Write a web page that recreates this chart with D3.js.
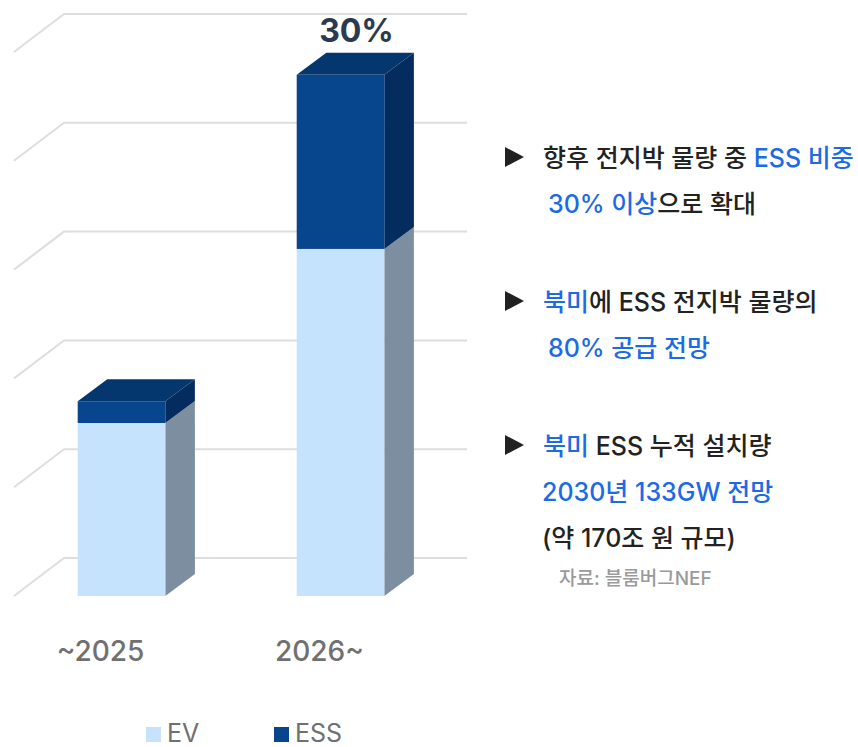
<!DOCTYPE html>
<html>
<head>
<meta charset="utf-8">
<script src="https://cdn.jsdelivr.net/npm/d3@7"></script>
<style>
  body { margin: 0; background: #fff; }
  svg { display: block; font-family: Inter, "Noto Sans CJK KR", sans-serif; }
</style>
</head>
<body>
<svg id="chart" width="858" height="747"></svg>
<script>
// Data
const categories = ["~2025", "2026~"];
const evValues = [159, 319];
const essValues = [20, 160];
const gridTicks = [0, 100, 200, 300, 400, 500];
const seriesNames = ["EV", "ESS"];
const shareLabel = "30%";

// Right-hand notes: each line is a list of [text, highlighted?]
const notes = [
    [[["향후 전지박 물량 중 ", false], ["ESS 비중", true]],
     [["30% 이상", true], ["으로 확대", false]]],
    [[["북미", true], ["에 ESS 전지박 물량의", false]],
     [["80% 공급 전망", true]]],
    [[["북미", true], [" ESS 누적 설치량", false]],
     [["2030년 133GW 전망", true]],
     [["(약 170조 원 규모)", false]]]
];
const sourceText = "자료: 블룸버그NEF";

const svg = d3.select("#chart");

const colors = {
    EV: { front: "#c5e3fd", side: "#7c8e9f", top: "#a9c6e0" },
    ESS: { front: "#07458d", side: "#042c5e", top: "#05376f" }
};

// Scales (front plane)
const y = d3.scaleLinear().domain([0, 500]).range([596, 52]);
const x = d3.scaleBand().domain(categories).range([12, 450]).paddingInner(0.6).paddingOuter(0.3);

// Perspective offsets
const wallDx = 50, wallDy = 38;
const barDx = 29.6, barDy = 22;

// Gridlines: diagonal floor-side plus back wall line
const grid = svg.append("g").attr("stroke", "#dedede").attr("stroke-width", 2).attr("fill", "none");
gridTicks.forEach(t => {
    grid.append("path")
        .attr("d", `M14,${y(t)} L${14 + wallDx},${y(t) - wallDy} L467,${y(t) - wallDy}`);
});

// Bars
const stacks = categories.map((c, i) => ({
    cat: c,
    segs: [
        { key: "EV", y0: 0, y1: evValues[i] },
        { key: "ESS", y0: evValues[i], y1: evValues[i] + essValues[i] }
    ]
}));

stacks.forEach(s => {
    const x0 = x(s.cat), x1 = x0 + x.bandwidth();
    const g = svg.append("g");
    s.segs.forEach((seg, j) => {
        const yb = y(seg.y0), yt = y(seg.y1);
        const c = colors[seg.key];
        // side face
        g.append("path")
            .attr("d", `M${x1},${yb} L${x1 + barDx},${yb - barDy} L${x1 + barDx},${yt - barDy} L${x1},${yt} Z`)
            .attr("fill", c.side);
        // front face
        g.append("rect")
            .attr("x", x0).attr("y", yt)
            .attr("width", x.bandwidth()).attr("height", yb - yt)
            .attr("fill", c.front);
        // top face for last segment
        if (j === s.segs.length - 1) {
            g.append("path")
                .attr("d", `M${x0},${yt} L${x0 + barDx},${yt - barDy} L${x1 + barDx},${yt - barDy} L${x1},${yt} Z`)
                .attr("fill", c.top);
        }
    });
});

// Share label above 2026~ bar
const last = stacks[stacks.length - 1];
svg.append("text")
    .attr("x", x(last.cat) + x.bandwidth() / 2 + 16)
    .attr("y", 42)
    .attr("text-anchor", "middle")
    .attr("font-size", 32)
    .attr("font-weight", 700)
    .attr("fill", "#2b3a4f")
    .text(shareLabel);

// Category labels
svg.selectAll(".cat")
    .data(categories)
    .enter().append("text")
    .attr("class", "cat")
    .attr("x", d => x(d) + x.bandwidth() / 2 - 21)
    .attr("y", 661)
    .attr("text-anchor", "middle")
    .attr("font-size", 28)
    .attr("font-weight", 500)
    .attr("fill", "#707070")
    .text(d => d);

// Legend
const legend = svg.selectAll(".legend-item")
    .data(seriesNames)
    .enter().append("g")
    .attr("class", "legend-item")
    .attr("transform", (d, i) => `translate(${146 + i * 128},727)`);

legend.append("rect")
    .attr("width", 15).attr("height", 15)
    .attr("fill", d => colors[d].front);

legend.append("text")
    .attr("x", 21).attr("y", 15)
    .attr("font-size", 25)
    .attr("fill", "#707070")
    .text(d => d);

// Notes
const noteTops = [167, 311, 455];
const lineGap = 46;
notes.forEach((note, i) => {
    // bullet triangle
    const cy = noteTops[i] - 10;
    svg.append("path")
        .attr("d", `M505,${cy - 10} L524,${cy} L505,${cy + 10} Z`)
        .attr("fill", "#222");
    note.forEach((line, k) => {
        const t = svg.append("text")
            .attr("x", k === 0 ? 543 : (i === 2 ? 542 : 548))
            .attr("y", noteTops[i] + k * lineGap)
            .attr("font-size", 25)
            .attr("font-weight", 500);
        line.forEach(([str, hl]) => {
            t.append("tspan")
                .attr("fill", hl ? "#1d6ae5" : "#222")
                .text(str);
        });
    });
});

svg.append("text")
    .attr("x", 559)
    .attr("y", 585)
    .attr("font-size", 19)
    .attr("font-weight", 500)
    .attr("fill", "#9a9a9a")
    .text(sourceText);
</script>
</body>
</html>
